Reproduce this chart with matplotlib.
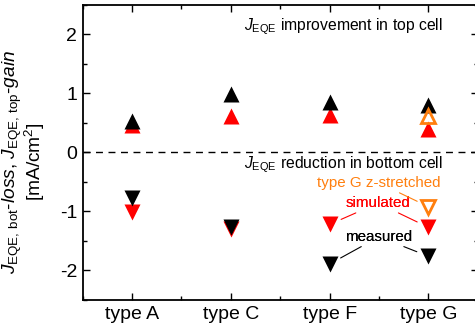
import matplotlib
matplotlib.use('Agg')
import matplotlib.pyplot as plt
from matplotlib.ticker import MultipleLocator

plt.rcParams['font.family'] = ['Liberation Sans', 'DejaVu Sans']
plt.rcParams['mathtext.fontset'] = 'custom'
plt.rcParams['mathtext.rm'] = 'Liberation Sans'
plt.rcParams['mathtext.it'] = 'Liberation Sans:italic'
plt.rcParams['axes.unicode_minus'] = False

types = ['type A', 'type C', 'type F', 'type G']

# top cell gain (up triangles)
gain_measured = [0.53, 0.99, 0.85, 0.80]
gain_simulated = [0.47, 0.61, 0.64, 0.40]
gain_stretched = 0.62   # type G z-stretched

# bottom cell loss (down triangles)
loss_measured = [-0.77, -1.26, -1.89, -1.76]
loss_simulated = [-1.01, -1.30, -1.22, -1.27]
loss_stretched = -0.92  # type G z-stretched

red = '#ff0000'
orange = '#ff7f0e'
ms = 11

fig = plt.figure(figsize=(4.75, 3.33), dpi=100)
ax = fig.add_axes([0.174, 0.099, 0.832, 0.887])

x = range(len(types))
ax.plot(x, gain_simulated, '^', color=red, ms=ms, mec='none')
ax.plot(x, loss_simulated, 'v', color=red, ms=ms, mec='none')
ax.plot(x, gain_measured, '^', color='black', ms=ms, mec='none')
ax.plot(x, loss_measured, 'v', color='black', ms=ms, mec='none')
ax.plot([3], [gain_stretched], '^', mfc='none', mec=orange, mew=2, ms=ms - 1.5)
ax.plot([3], [loss_stretched], 'v', mfc='none', mec=orange, mew=2, ms=ms - 1.5)

ax.axhline(0, color='black', ls=(0, (5, 4)), lw=1)

ax.set_xlim(-0.5, 3.5)
ax.set_ylim(-2.5, 2.5)
ax.set_xticks(list(x))
ax.set_xticklabels(types)
ax.xaxis.set_minor_locator(MultipleLocator(0.5))
ax.yaxis.set_major_locator(MultipleLocator(1))
ax.yaxis.set_minor_locator(MultipleLocator(0.5))
ax.tick_params(which='both', direction='in', top=True, right=True, labelsize=14, width=1)
ax.tick_params(which='major', length=5, pad=4)
ax.tick_params(which='minor', length=3)
for s in ax.spines.values():
    s.set_linewidth(1.3)

fig.text(0.05, 0.515,
         r'$J_{\mathrm{EQE,\,bot}}$-$\it{loss}$, $J_{\mathrm{EQE,\,top}}$-$\it{gain}$' + '\n[mA/cm$^2$]',
         fontsize=13.8, linespacing=0.95, rotation=90, ha='center', va='center', multialignment='center')

ax.text(2.14, 2.12, r'$J_{\mathrm{EQE}}$ improvement in top cell', fontsize=11.3, ha='center', va='center')
ax.text(2.14, -0.21, r'$J_{\mathrm{EQE}}$ reduction in bottom cell', fontsize=11.3, ha='center', va='center')

lw = 0.8
fs = 10.9
ax.annotate('measured', xy=(2, loss_measured[2]), xytext=(2.50, -1.43), fontsize=fs, ha='center', va='center',
            arrowprops=dict(arrowstyle='-', color='black', lw=lw, shrinkA=0, shrinkB=9))
ax.annotate('measured', xy=(3, loss_measured[3]), xytext=(2.50, -1.43), fontsize=fs, ha='center', va='center',
            arrowprops=dict(arrowstyle='-', color='black', lw=lw, shrinkA=0, shrinkB=9))
ax.annotate('simulated', xy=(2, loss_simulated[2]), xytext=(2.49, -0.86), fontsize=fs, ha='center', va='center',
            color=red, arrowprops=dict(arrowstyle='-', color=red, lw=lw, shrinkA=0, shrinkB=9))
ax.annotate('simulated', xy=(3, loss_simulated[3]), xytext=(2.49, -0.86), fontsize=fs, ha='center', va='center',
            color=red, arrowprops=dict(arrowstyle='-', color=red, lw=lw, shrinkA=0, shrinkB=9))
ax.annotate('type G z-stretched', xy=(3, loss_stretched), xytext=(2.50, -0.52), fontsize=fs, ha='center',
            va='center', color=orange,
            arrowprops=dict(arrowstyle='-', color=orange, lw=lw, shrinkA=0, shrinkB=9))

fig.savefig('out.png', dpi=100)
